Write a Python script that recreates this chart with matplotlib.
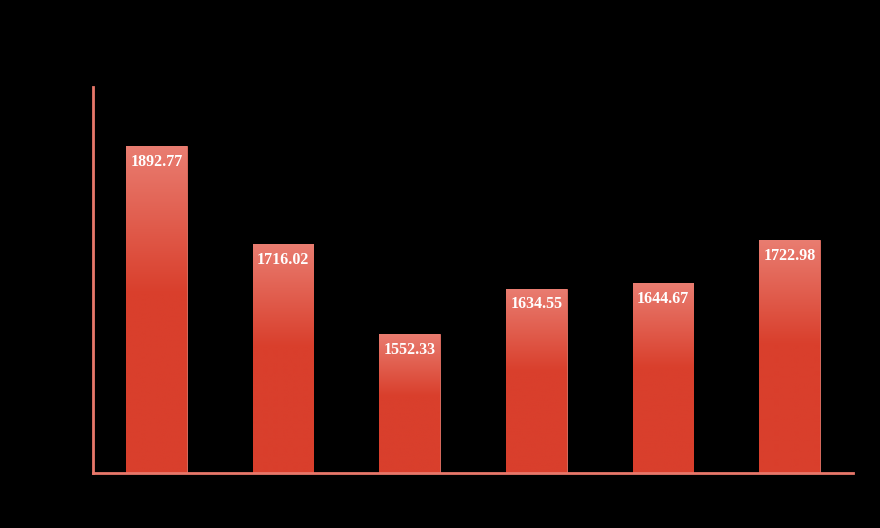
import matplotlib
matplotlib.use("Agg")
import matplotlib.pyplot as plt
import numpy as np
from matplotlib.colors import LinearSegmentedColormap

categories = ["A", "B", "C", "D", "E", "F"]
values = [1892.77, 1716.02, 1552.33, 1634.55, 1644.67, 1722.98]

fig = plt.figure(figsize=(8.8, 5.28), dpi=100, facecolor="black")
ax = fig.add_axes([0.1057, 0.1042, 0.8636, 0.731])
ax.set_facecolor("black")

x = np.arange(len(categories))
bars = ax.bar(x, values, width=0.48, color="#d93f2c", edgecolor="#e8776a", linewidth=0.6, zorder=2)
ax.set_xlim(-0.5, len(categories) - 0.5)
ax.set_ylim(1300, 2000)

cmap = LinearSegmentedColormap.from_list("g", [(0, "#d93f2c"), (0.55, "#d93f2c"), (1.0, "#e97d71")])
grad = np.linspace(0, 1, 256).reshape(-1, 1)
ymin = ax.get_ylim()[0]
for b in bars:
    x0 = b.get_x()
    w = b.get_width()
    top = b.get_height()
    im = ax.imshow(grad, cmap=cmap, aspect="auto", origin="lower",
                   extent=(x0, x0 + w, ymin, top), zorder=2.5, interpolation="bilinear")
    im.set_clip_path(b)
    ax.annotate(f"{top:.2f}", xy=(x0 + w / 2, top), xytext=(0, -11.5), textcoords="offset points",
                ha="center", va="center", color="white", fontsize=11.5, fontweight="bold",
                family="Liberation Serif", zorder=4)

ax.set_xlim(-0.5, len(categories) - 0.5)
ax.set_ylim(1300, 2000)
for s in ["top", "right"]:
    ax.spines[s].set_visible(False)
for s in ["left", "bottom"]:
    ax.spines[s].set_color("#e8776a")
    ax.spines[s].set_linewidth(2)
ax.set_xticks([])
ax.set_yticks([])

fig.savefig("out.png", dpi=100, facecolor="black")
